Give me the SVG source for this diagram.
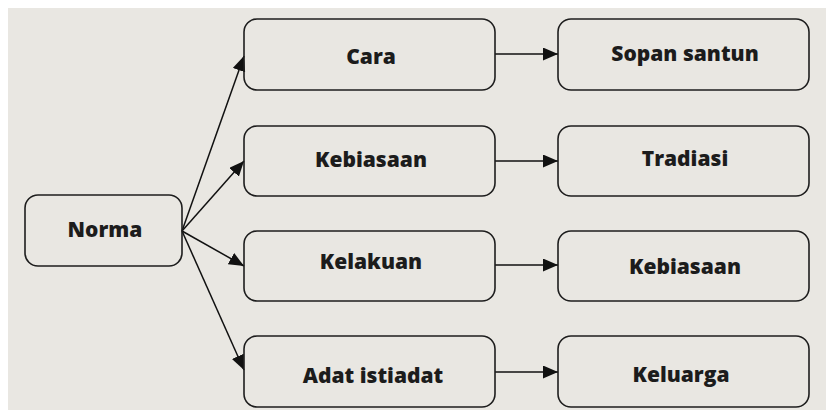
<svg xmlns="http://www.w3.org/2000/svg" width="826" height="418" viewBox="0 0 826 418">
<style>
.box{fill:none;stroke:#1e1e1e;stroke-width:1.6}
.lbl{font-family:"Open Sans","Liberation Sans",sans-serif;font-weight:800;font-size:21px;fill:#1c1c1c;text-anchor:middle}
.conn{stroke:#111;stroke-width:1.5;fill:none;marker-end:url(#ah)}
</style>
<defs>
<marker id="ah" markerUnits="userSpaceOnUse" markerWidth="16" markerHeight="14" refX="15" refY="6.5" orient="auto">
<path d="M0,0 L15,6.5 L0,13 Z" fill="#111"/>
</marker>
</defs>
<rect x="0" y="0" width="826" height="418" fill="#ffffff"/>
<rect x="8" y="8" width="818" height="402" fill="#e9e7e2"/>
<g id="connectors">
<line class="conn" x1="182" y1="231" x2="244" y2="56"/>
<line class="conn" x1="182" y1="231" x2="244" y2="161"/>
<line class="conn" x1="182" y1="231" x2="244" y2="266"/>
<line class="conn" x1="182" y1="231" x2="244" y2="370"/>
<line class="conn" x1="495" y1="54" x2="558" y2="54"/>
<line class="conn" x1="495" y1="161" x2="558" y2="161"/>
<line class="conn" x1="495" y1="265" x2="558" y2="265"/>
<line class="conn" x1="495" y1="372" x2="558" y2="372"/>
</g>
<g id="norma"><rect class="box" x="25" y="195" width="157" height="71" rx="13"/><text class="lbl" x="105" y="237">Norma</text></g>
<g id="cara"><rect class="box" x="244" y="19" width="251" height="71" rx="13"/><text class="lbl" x="371" y="64">Cara</text></g>
<g id="kebiasaan1"><rect class="box" x="244" y="126" width="251" height="70" rx="13"/><text class="lbl" x="371" y="167">Kebiasaan</text></g>
<g id="kelakuan"><rect class="box" x="244" y="231" width="251" height="70" rx="13"/><text class="lbl" x="371" y="269">Kelakuan</text></g>
<g id="adat"><rect class="box" x="244" y="336" width="251" height="71" rx="13"/><text class="lbl" x="373" y="383">Adat istiadat</text></g>
<g id="sopan"><rect class="box" x="558" y="19" width="251" height="71" rx="13"/><text class="lbl" x="685" y="61">Sopan santun</text></g>
<g id="tradiasi"><rect class="box" x="558" y="126" width="251" height="70" rx="13"/><text class="lbl" x="685" y="166">Tradiasi</text></g>
<g id="kebiasaan2"><rect class="box" x="558" y="231" width="251" height="70" rx="13"/><text class="lbl" x="685" y="274">Kebiasaan</text></g>
<g id="keluarga"><rect class="box" x="558" y="336" width="251" height="71" rx="13"/><text class="lbl" x="681" y="382">Keluarga</text></g>
</svg>
